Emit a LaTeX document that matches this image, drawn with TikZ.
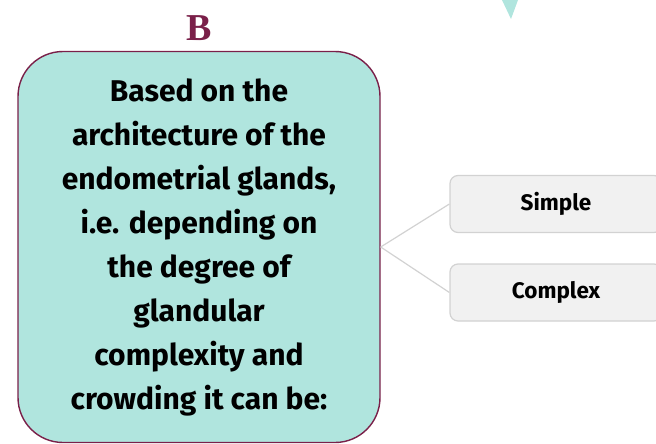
\documentclass[tikz,border=0pt]{standalone}
\usepackage{fontspec}
\setmainfont{Fira Sans}
\newfontfamily\letterfont{Liberation Serif}
\definecolor{tealfill}{HTML}{B0E5DE}
\definecolor{maroonline}{HTML}{7A2049}
\definecolor{greyfill}{HTML}{F1F1F1}
\definecolor{greyline}{HTML}{D2D2D2}

\begin{document}
\begin{tikzpicture}[x=1pt,y=-1pt,
    mainbox/.style={draw=maroonline,line width=1.4pt,fill=tealfill,rounded corners=45pt,
      minimum width=362pt,minimum height=391pt,align=center,inner sep=0pt,
      font={\bfseries\fontsize{30}{44}\selectfont}},
    optbox/.style={draw=greyline,line width=1.2pt,fill=greyfill,rounded corners=8pt,
      minimum width=212pt,minimum height=57pt,inner sep=0pt,
      font={\bfseries\fontsize{22.5}{24}\selectfont}},
    link/.style={draw=greyline,line width=1.2pt}]
  \useasboundingbox (0,0) rectangle (656,444);
  % teal corner of the next panel
  \fill[tealfill] (502,0) -- (518,0) -- (511,19) -- cycle;
  \node[text=maroonline,font={\letterfont\bfseries\fontsize{38}{38}\selectfont}] (letter) at (199,28) {B};
  \node[mainbox] (basis) at (199,247) {Based on the\\ architecture of the\\ endometrial glands,\\ i.e. depending on\\ the degree of\\ glandular\\ complexity and\\ crowding it can be:};
  \node[optbox] (simple) at (556,204) {Simple};
  \node[optbox] (complex) at (556,292.5) {Complex};
  \draw[link] (basis.east) -- (simple.west);
  \draw[link] (basis.east) -- (complex.west);
\end{tikzpicture}
\end{document}
